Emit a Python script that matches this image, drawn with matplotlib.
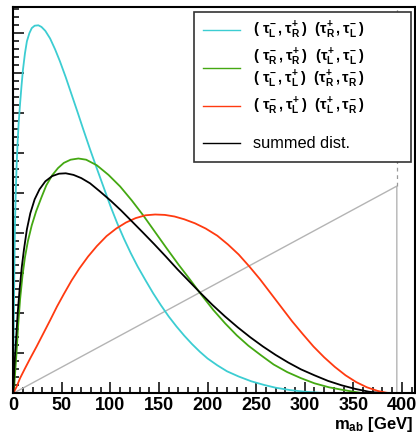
import matplotlib
matplotlib.use('Agg')
import matplotlib.pyplot as plt
from matplotlib.lines import Line2D
from matplotlib.patches import Rectangle
from matplotlib.ticker import MultipleLocator

plt.rcParams['font.family'] = ['Liberation Sans', 'DejaVu Sans']
plt.rcParams['mathtext.fontset'] = 'custom'
plt.rcParams['mathtext.rm'] = 'Liberation Sans:bold'
plt.rcParams['mathtext.it'] = 'Liberation Sans:bold'
plt.rcParams['mathtext.bf'] = 'Liberation Sans:bold'

# m_ab distributions (arbitrary units)
cyan_x = [0, 0.3, 0.6, 1.0, 1.4, 1.8, 2.5, 3.5, 4.5, 5.5, 7, 8.5, 10, 12, 14, 16.5, 19, 22,
          25.8, 29, 33, 37.9, 43, 48, 54, 60, 66, 72, 79, 86, 93, 100, 107, 114, 121, 128,
          136, 144, 152, 160, 168, 176, 184, 192, 200, 210, 220, 232, 245, 258, 270, 285,
          300, 315, 327]
cyan_y = [0, 1.2, 2.0, 2.9, 3.7, 4.3, 5.0, 5.75, 6.3, 6.75, 7.25, 7.7, 8.1, 8.5, 8.8, 9.0,
          9.13, 9.19, 9.2, 9.16, 9.06, 8.87, 8.6, 8.3, 7.9, 7.47, 7.04, 6.6, 6.1, 5.62, 5.15,
          4.68, 4.25, 3.86, 3.5, 3.17, 2.83, 2.5, 2.2, 1.92, 1.67, 1.44, 1.23, 1.04, 0.87,
          0.7, 0.55, 0.42, 0.3, 0.21, 0.14, 0.08, 0.04, 0.015, 0]

green_x = [0, 1, 2, 3.5, 5, 7, 9.5, 12, 15, 19, 23.5, 29, 34, 40, 46, 52, 59, 67, 75, 86,
           98, 110, 122, 134, 146, 158, 170, 182, 194, 206, 218, 230, 242, 255, 268, 282,
           296, 310, 325, 338, 350, 361]
green_y = [0, 0.2, 0.55, 1.08, 1.7, 2.35, 2.95, 3.4, 3.8, 4.2, 4.55, 4.9, 5.2, 5.45, 5.63,
           5.76, 5.84, 5.87, 5.84, 5.7, 5.46, 5.17, 4.82, 4.44, 4.03, 3.62, 3.22, 2.84, 2.45,
           2.08, 1.75, 1.45, 1.19, 0.95, 0.72, 0.53, 0.38, 0.25, 0.15, 0.09, 0.04, 0]

red_x = [0, 3.5, 7, 12, 18, 24, 31, 38, 45, 52, 60, 68, 77, 86, 96, 106, 116, 126, 136, 146,
         156, 166, 176, 187, 198, 210, 221, 232, 243, 254, 265, 276, 287, 298, 309, 320, 331,
         342, 353, 364, 375, 384, 389]
red_y = [0, 0.17, 0.38, 0.62, 0.9, 1.17, 1.5, 1.83, 2.17, 2.48, 2.82, 3.12, 3.42, 3.68, 3.93,
         4.12, 4.27, 4.38, 4.45, 4.47, 4.46, 4.42, 4.35, 4.25, 4.12, 3.94, 3.72, 3.47, 3.17,
         2.85, 2.5, 2.15, 1.8, 1.48, 1.17, 0.9, 0.66, 0.45, 0.28, 0.15, 0.06, 0.015, 0]

black_x = [0, 0.8, 1.8, 3, 4.5, 6.5, 8.7, 11, 14, 17.5, 22, 27, 33, 40, 47, 54, 62, 70, 79,
           89, 100, 111, 122, 133, 145, 157, 169, 181, 193, 205, 218, 231, 244, 257, 270, 283,
           296, 310, 324, 338, 352, 366, 380]
black_y = [0, 0.5, 0.95, 1.4, 2.0, 2.6, 3.15, 3.6, 4.1, 4.5, 4.85, 5.1, 5.3, 5.43, 5.49, 5.5,
           5.46, 5.38, 5.25, 5.05, 4.82, 4.57, 4.3, 4.03, 3.73, 3.42, 3.1, 2.8, 2.5, 2.21,
           1.92, 1.65, 1.4, 1.17, 0.96, 0.77, 0.6, 0.45, 0.31, 0.2, 0.11, 0.04, 0]

# linear shape up to the kinematic endpoint
endpoint = 394.8
gray_x = [0, endpoint, endpoint]
gray_y = [0, 5.18, 0]

labels = [
    [r'$(\ \tau^{-}_{L}\,,\tau^{+}_{R}\,)\ \ (\tau^{+}_{R}\,,\tau^{-}_{L}\,)$'],
    [r'$(\ \tau^{-}_{R}\,,\tau^{+}_{R}\,)\ \ (\tau^{+}_{L}\,,\tau^{-}_{L}\,)$',
     r'$(\ \tau^{-}_{L}\,,\tau^{+}_{L}\,)\ \ (\tau^{+}_{R}\,,\tau^{-}_{R}\,)$'],
    [r'$(\ \tau^{-}_{R}\,,\tau^{+}_{L}\,)\ \ (\tau^{+}_{L}\,,\tau^{-}_{R}\,)$'],
    ['summed dist.'],
]
colors = ['#3ccdd2', '#44a812', '#ff3a10', 'black']

W, H = 416, 433
fig = plt.figure(figsize=(W / 100, H / 100), dpi=100)
ax = fig.add_axes([13.3 / W, 1 - 393.3 / H, (414.5 - 13.3) / W, (393.3 - 6.7) / H])

ax.plot(gray_x, gray_y, color='#b4b4b4', lw=1.0)
ax.plot([endpoint, endpoint], [5.18, 10], color='#999999', lw=0.9, ls=(0, (3, 3)))
ax.plot(cyan_x, cyan_y, color=colors[0], lw=1.3)
ax.plot(green_x, green_y, color=colors[1], lw=1.3)
ax.plot(red_x, red_y, color=colors[2], lw=1.3)
ax.plot(black_x, black_y, color=colors[3], lw=1.3)

ax.set_xlim(0, 413)
ax.set_ylim(0, 9.665)
ax.xaxis.set_major_locator(MultipleLocator(50))
ax.xaxis.set_minor_locator(MultipleLocator(10))
ax.yaxis.set_major_locator(MultipleLocator(1))
ax.yaxis.set_minor_locator(MultipleLocator(0.2))
ax.tick_params(which='both', direction='in', width=1.1, top=False, right=False)
ax.tick_params(which='major', length=8)
ax.tick_params(which='minor', length=4.5)
ax.tick_params(axis='y', labelleft=False)
ax.tick_params(axis='x', labelsize=13, pad=3)
for t in ax.get_xticklabels():
    t.set_fontweight('bold')
for s in ax.spines.values():
    s.set_linewidth(1.5)

fig.text(413 / W, 1 - 424 / H, r'm$_{\mathbf{ab}}$ [GeV]', ha='right', va='center',
         fontsize=12, fontweight='bold')

# legend box drawn by hand (ROOT style)
def fx(px):
    return px / W

def fy(py):
    return 1 - py / H

fig.add_artist(Rectangle((fx(194), fy(161.7)), fx(410.7) - fx(194), fy(11.7) - fy(161.7),
                         transform=fig.transFigure, facecolor='white', edgecolor='#333333',
                         lw=1.2, zorder=5))
rows = [30, 68, 106, 143]
for lab, col, row in zip(labels, colors, rows):
    fig.add_artist(Line2D([fx(203), fx(240)], [fy(row), fy(row)], color=col, lw=1.0,
                          transform=fig.transFigure, zorder=6))
    if lab[0] == 'summed dist.':
        fig.text(fx(253), fy(row), lab[0], fontsize=11.8, va='center', ha='left', zorder=7)
    elif len(lab) == 2:
        fig.text(fx(253), fy(row - 11), lab[0], fontsize=10.5, va='center', ha='left', zorder=7)
        fig.text(fx(253), fy(row + 11), lab[1], fontsize=10.5, va='center', ha='left', zorder=7)
    else:
        fig.text(fx(253), fy(row), lab[0], fontsize=10.5, va='center', ha='left', zorder=7)

fig.savefig('out.png', dpi=100)
